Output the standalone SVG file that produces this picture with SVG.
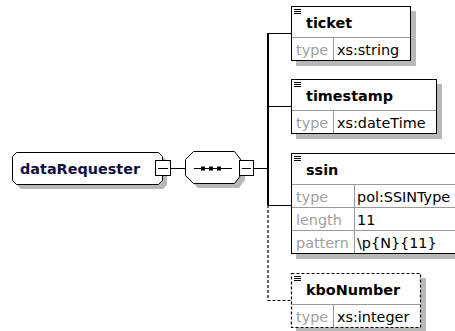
<svg xmlns="http://www.w3.org/2000/svg" width="455" height="331" viewBox="0 0 455 331">
<style>
text{font-family:"DejaVu Sans","Liberation Sans",sans-serif;font-size:14.4px}
.t{font-weight:bold;fill:#000}
.k{fill:#a0a0a0}
.v{fill:#000}
.box{fill:#fff;stroke:#000;stroke-width:1}
.dbox{fill:#fff;stroke:#000;stroke-width:1.2;stroke-dasharray:3,2}
.sh{fill:#b8b8b8}
.div{stroke:#9a9a9a;stroke-width:1;fill:none}
.ic{stroke:#000;stroke-width:1}
.ln{stroke:#000;stroke-width:1;fill:none}
.vl{stroke:#000;stroke-width:2;fill:none}
.dl{stroke:#000;stroke-width:1.2;fill:none;stroke-dasharray:3,2}
</style>
<defs>
<g id="icon"><path class="ic" d="M294 0.5h7M294 2.5h7M294 4.5h7"/></g>
</defs>
<g id="connectors">
<path class="ln" d="M171 168.5H185"/>
<path class="ln" d="M253 168.5H268"/>
<path class="vl" d="M268 33V205"/>
<path class="dl" d="M268 205V300.5H291"/>
<path class="ln" d="M268 33.5H291"/>
<path class="ln" d="M268 106.5H291"/>
<path class="ln" d="M268 205.5H291"/>
</g>
<g id="dataRequester">
<polygon class="sh" points="21,157 163,157 167,161 167,185 163,189 21,189 17,185 17,161"/>
<polygon class="box" points="16.5,152.5 158.5,152.5 162.5,156.5 162.5,180.5 158.5,184.5 16.5,184.5 12.5,180.5 12.5,156.5"/>
<text x="20" y="173.5" class="t" style="fill:#101040">dataRequester</text>
<rect class="box" x="155.5" y="160.5" width="15" height="15"/>
<path class="ln" d="M158 168.5H168"/>
</g>
<g id="sequence">
<polygon class="sh" points="198,156 239,156 245,164 245,180 239,188 198,188 190,180 190,164"/>
<polygon class="box" points="193.5,151.5 234.5,151.5 240.5,159.5 240.5,175.5 234.5,183.5 193.5,183.5 185.5,175.5 185.5,159.5"/>
<path class="ln" d="M194 168.5H232"/>
<rect x="201" y="166.5" width="4" height="4" fill="#000"/>
<rect x="209" y="166.5" width="4" height="4" fill="#000"/>
<rect x="217" y="166.5" width="4" height="4" fill="#000"/>
<rect class="box" x="239.5" y="160.5" width="14" height="15"/>
<path class="ln" d="M242 168.5H251"/>
</g>
<g id="ticket">
<rect class="sh" x="296" y="11" width="120" height="55"/>
<rect class="box" x="291.5" y="6.5" width="119" height="54"/>
<path class="div" d="M292 37.5H410M333.5 38V60"/>
<use href="#icon" y="9"/>
<text x="306" y="28" class="t">ticket</text>
<text x="296" y="54.5" class="k">type</text>
<text x="337" y="54.5" class="v">xs:string</text>
</g>
<g id="timestamp">
<rect class="sh" x="296" y="84" width="146" height="55"/>
<rect class="box" x="291.5" y="79.5" width="145" height="54"/>
<path class="div" d="M292 110.5H436M333.5 111V133"/>
<use href="#icon" y="82"/>
<text x="306" y="101" class="t">timestamp</text>
<text x="296" y="127.5" class="k">type</text>
<text x="337" y="127.5" class="v">xs:dateTime</text>
</g>
<g id="ssin">
<rect class="sh" x="296" y="158" width="175" height="101"/>
<rect class="box" x="291.5" y="153.5" width="175" height="100"/>
<path class="div" d="M292 184.5H466M292 207.5H466M292 230.5H466M354.5 185V253"/>
<use href="#icon" y="156"/>
<text x="306" y="175" class="t">ssin</text>
<text x="296" y="201.5" class="k">type</text>
<text x="357" y="201.5" class="v">pol:SSINType</text>
<text x="296" y="224.5" class="k">length</text>
<text x="357" y="224.5" class="v">11</text>
<text x="296" y="247.5" class="k">pattern</text>
<text x="357" y="247.5" class="v">\p{N}{11}</text>
</g>
<g id="kboNumber">
<rect class="sh" x="296" y="278" width="130" height="55"/>
<rect class="dbox" x="291.5" y="273.5" width="129" height="54"/>
<path class="div" d="M292 304.5H420M333.5 305V327"/>
<use href="#icon" y="276"/>
<text x="306" y="295" class="t">kboNumber</text>
<text x="296" y="321.5" class="k">type</text>
<text x="337" y="321.5" class="v">xs:integer</text>
</g>
</svg>
